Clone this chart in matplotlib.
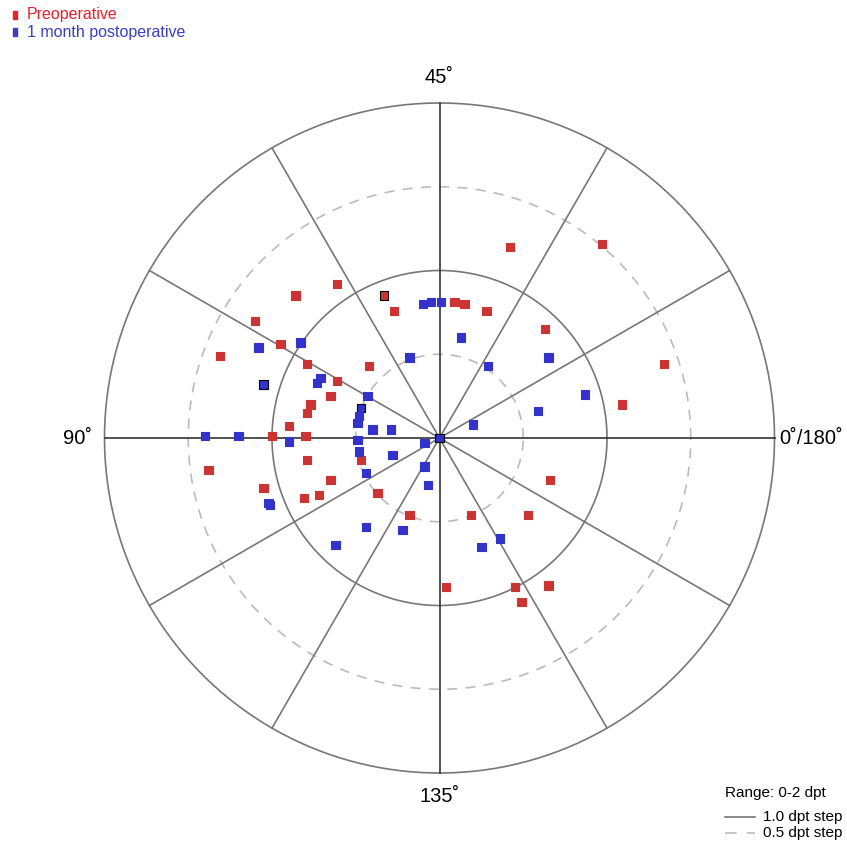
import numpy as np
import matplotlib.pyplot as plt
from matplotlib.patches import Rectangle

plt.rcParams['font.family'] = ['Liberation Sans', 'DejaVu Sans']

# astigmatism as double-angle vectors (dpt): x = C*cos(2*axis), y = C*sin(2*axis)
preop_x = [-0.61, -0.86, -0.33, -0.27, -1.10, -0.95, -1.31, -0.79, -0.42, -0.61,
           -0.65, -0.77, -0.79, -0.90, -1.00, -0.80, 0.42, 0.97, 0.09, 0.15,
           0.28, 0.63, 1.34, 1.09, -1.38, -0.79, -0.47, -0.65, -1.05, -0.81,
           -0.72, -0.37, -0.18, 0.66, 0.19, 0.53, 0.04, 0.45, 0.65, 0.49]
preop_y = [0.92, 0.85, 0.85, 0.76, 0.70, 0.56, 0.49, 0.44, 0.43, 0.34,
           0.25, 0.20, 0.15, 0.07, 0.01, 0.01, 1.14, 1.16, 0.81, 0.80,
           0.76, 0.65, 0.44, 0.20, -0.19, -0.13, -0.13, -0.25, -0.30, -0.36,
           -0.34, -0.33, -0.46, -0.25, -0.46, -0.46, -0.89, -0.89, -0.88, -0.98]
preop_overlap = [2]

postop_x = [-0.10, -0.05, 0.01, -0.83, -1.08, -0.18, -0.71, -0.73, -1.05, -0.43,
            -0.47, -0.48, -0.49, -0.40, -0.29, -1.40, -1.20, -0.90, -0.49, -0.09,
            -0.48, -0.28, -0.44, -0.09, -0.07, -1.02, -1.01, -0.44, -0.22, -0.62,
            0.13, 0.29, 0.65, 0.87, 0.59, 0.20, 0.00, 0.36, 0.25]
postop_y = [0.80, 0.81, 0.81, 0.57, 0.54, 0.48, 0.36, 0.33, 0.32, 0.25,
            0.18, 0.13, 0.09, 0.05, 0.05, 0.01, 0.01, -0.02, -0.01, -0.03,
            -0.08, -0.10, -0.21, -0.17, -0.28, -0.39, -0.40, -0.53, -0.55, -0.64,
            0.60, 0.43, 0.48, 0.26, 0.16, 0.08, 0.00, -0.60, -0.65]
postop_overlap = [8, 10, 36]

axis_labels = ['0˚/180˚', '45˚', '90˚', '135˚']

red = '#cc3333'
blue = '#3333cc'

W, H = 847, 846
cx, cy, unit = 439.5, 438.0, 167.5  # centre and px per dpt
fig = plt.figure(figsize=(W / 100, H / 100), dpi=100)
ax = fig.add_axes([0, 0, 1, 1])
ax.set_xlim(-cx / unit, (W - cx) / unit)
ax.set_ylim(-(H - cy) / unit, cy / unit)
ax.set_aspect('equal')
ax.axis('off')

t = np.linspace(0, 2 * np.pi, 400)
for r in [1.0, 2.0]:
    ax.plot(r * np.cos(t), r * np.sin(t), color='#777777', lw=1.2, zorder=1)
for r in [0.5, 1.5]:
    ax.plot(r * np.cos(t), r * np.sin(t), color='#bbbbbb', lw=1.2,
            dashes=(6, 5), zorder=1)
for a in range(0, 360, 30):
    ar = np.radians(a)
    col = '#333333' if a % 90 == 0 else '#777777'
    ax.plot([0, 2 * np.cos(ar)], [0, 2 * np.sin(ar)], color=col, lw=1.2, zorder=1)

ax.text(2.03, 0, axis_labels[0], ha='left', va='center', fontsize=14.5)
ax.text(0, 2.15, axis_labels[1], ha='center', va='center', fontsize=14.5)
ax.text(-2.16, 0, axis_labels[2], ha='center', va='center', fontsize=14.5)
ax.text(0, -2.14, axis_labels[3], ha='center', va='center', fontsize=14.5)

pe = ['black' if i in preop_overlap else red for i in range(len(preop_x))]
ax.scatter(preop_x, preop_y, marker='s', s=36, c=red, edgecolors=pe,
           linewidths=0.8, zorder=3)
be = ['black' if i in postop_overlap else blue for i in range(len(postop_x))]
ax.scatter(postop_x, postop_y, marker='s', s=36, c=blue, edgecolors=be,
           linewidths=0.8, zorder=4)

# top-left legend
fig.patches.append(Rectangle((13 / W, 1 - 19 / H), 4 / W, 8 / H, color='#e8202a',
                             transform=fig.transFigure))
fig.patches.append(Rectangle((13 / W, 1 - 36 / H), 4 / W, 8 / H, color='#3b40c0',
                             transform=fig.transFigure))
fig.text(27 / W, 1 - 15 / H, 'Preoperative', color='#e8202a', fontsize=11.5,
         va='center')
fig.text(27 / W, 1 - 32 / H, '1 month postoperative', color='#3b40c0',
         fontsize=11.5, va='center')

# bottom-right legend
fig.text(725 / W, 1 - 793 / H, 'Range: 0-2 dpt', fontsize=11, va='center')
fig.add_artist(plt.Line2D([725 / W, 755 / W], [1 - 817 / H, 1 - 817 / H],
                          color='#777777', lw=1.2, transform=fig.transFigure))
fig.add_artist(plt.Line2D([725 / W, 755 / W], [1 - 833 / H, 1 - 833 / H],
                          color='#bbbbbb', lw=1.2, dashes=(7, 6),
                          transform=fig.transFigure))
fig.text(763 / W, 1 - 817 / H, '1.0 dpt step', fontsize=11, va='center')
fig.text(763 / W, 1 - 833 / H, '0.5 dpt step', fontsize=11, va='center')

fig.savefig('out.png', dpi=100)
